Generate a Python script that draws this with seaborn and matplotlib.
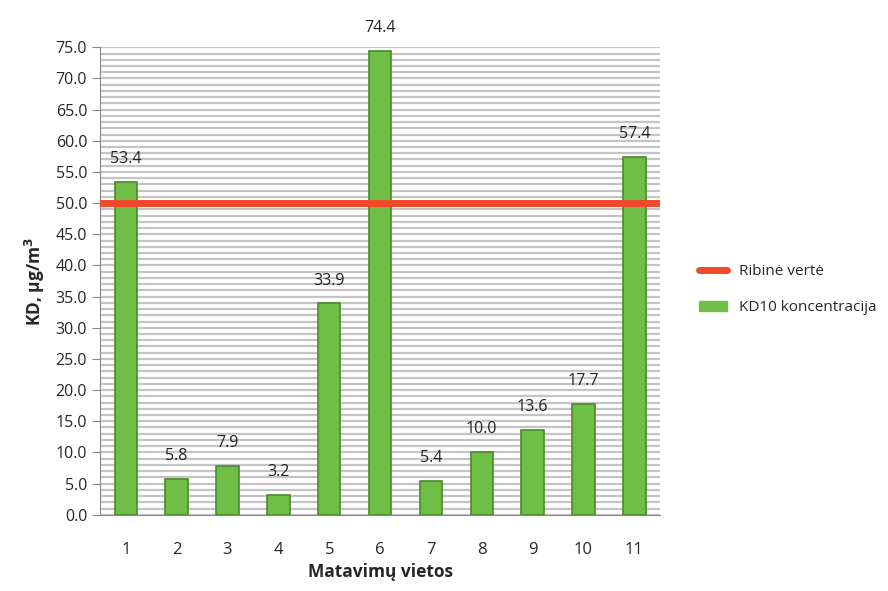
import pandas as pd
import numpy as np
import matplotlib
matplotlib.use('Agg')
import matplotlib.pyplot as plt
import seaborn as sns
from matplotlib.lines import Line2D
from matplotlib.patches import Patch

# data
sites = ['1', '2', '3', '4', '5', '6', '7', '8', '9', '10', '11']
kd10 = [53.4, 5.8, 7.9, 3.2, 33.9, 74.4, 5.4, 10.0, 13.6, 17.7, 57.4]
limit_value = 50.0
y_ticks = [0, 5, 10, 15, 20, 25, 30, 35, 40, 45, 50, 55, 60, 65, 70, 75]

df = pd.DataFrame({'Vieta': sites, 'KD10': kd10})

sns.set_style('white')
plt.rcParams['font.family'] = ['Open Sans', 'DejaVu Sans']

fig = plt.figure(figsize=(8.88, 5.91), dpi=100)
ax = fig.add_axes([0.113, 0.129, 0.63, 0.791])

green = '#6fbe45'
dark_green = '#4a8a2c'
red = '#f04a2b'

# striped back wall
ax.set_yticks(np.arange(0, 76, 1), minor=True)
ax.grid(which='minor', axis='y', color='#c4c4c4', linewidth=1.6)
ax.grid(which='major', axis='y', color='#c4c4c4', linewidth=1.6)
ax.set_axisbelow(True)

sns.barplot(data=df, x='Vieta', y='KD10', color=green, width=0.44,
            saturation=1, edgecolor=dark_green, linewidth=1.2, ax=ax, zorder=3)

for i, v in enumerate(kd10):
    ax.text(i, v + 2.4, f'{v:.1f}', ha='center', va='bottom', fontsize=11.5,
            color='#222222', zorder=5)

ax.axhline(limit_value, color=red, linewidth=5, solid_capstyle='round', zorder=4)

ax.set_ylim(0, 75)
ax.set_xlim(-0.5, 10.5)
ax.set_yticks(y_ticks)
ax.set_yticklabels([f'{t:.1f}' for t in y_ticks], fontsize=11.5)
ax.tick_params(axis='x', labelsize=12, pad=16)
ax.tick_params(axis='y', left=True, length=6, color='#888888')

ax.set_ylabel('KD, µg/m$^\\mathbf{3}$', fontsize=12.5, fontweight='bold', labelpad=6)
ax.set_xlabel('Matavimų vietos', fontsize=12.5, fontweight='bold', labelpad=4)

for side in ['top', 'right']:
    ax.spines[side].set_visible(False)
ax.spines['left'].set_color('#888888')
ax.spines['bottom'].set_color('#888888')

handles = [Line2D([0], [0], color=red, linewidth=5, solid_capstyle='round'),
           Patch(facecolor=green, edgecolor=green)]
fig.legend(handles, ['Ribinė vertė', 'KD10 koncentracija'], loc='center left',
           bbox_to_anchor=(0.772, 0.51), frameon=False, fontsize=11,
           labelspacing=1.4, handlelength=1.8)

fig.savefig('out.png', dpi=100)
